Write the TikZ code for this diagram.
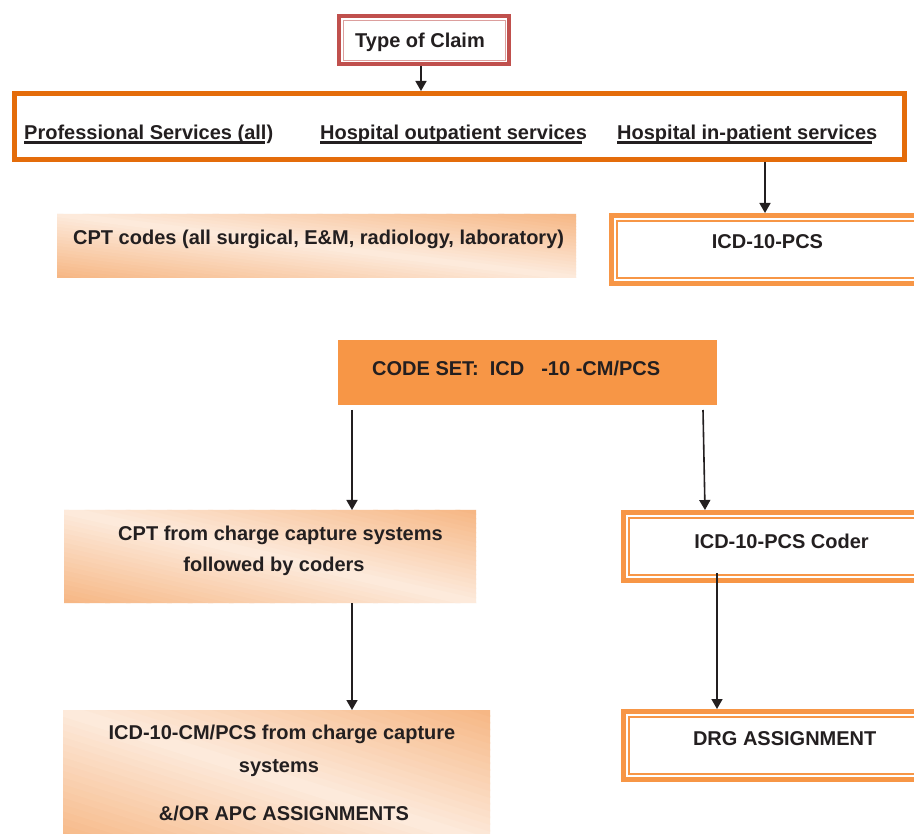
\documentclass[tikz,border=0pt]{standalone}
\usepackage{fontspec}
\setmainfont{Liberation Sans}
\usetikzlibrary{arrows.meta}
\definecolor{claimred}{HTML}{C0504D}
\definecolor{bigor}{HTML}{E46C0A}
\definecolor{boxor}{HTML}{F79646}
\definecolor{gradA}{HTML}{F6B683}
\definecolor{gradB}{HTML}{FDEBDD}
\definecolor{ink}{HTML}{231F20}
% diagonal gradient: orange at bottom-left and top-right corners, light along the other diagonal
\newcommand{\gradrect}[4]{%
  \begin{scope}
    \clip (#1,#2) rectangle (#3,#4);
    \begin{scope}[shift={(#1,#4)}, x={(#3-#1,0)}, y={(0,#2-#4)}]
      \foreach \k in {0,...,39} {
        \pgfmathsetmacro{\ua}{\k/20}
        \pgfmathsetmacro{\ub}{(\k+1)/20+0.012}
        \pgfmathsetmacro{\mx}{100*abs((\k+0.5)/20-1)}
        \fill[gradA!\mx!gradB] (\ua,0) -- (\ub,0) -- (\ub-1,1) -- (\ua-1,1) -- cycle;
      }
    \end{scope}
  \end{scope}}
\begin{document}
\begin{tikzpicture}[x=1pt,y=-1pt,
  txt/.style={font=\bfseries\fontsize{20}{24}\selectfont, text=ink, inner sep=0pt},
  arr/.style={draw=ink, line width=1.6pt, -{Triangle[length=10pt,width=11pt]}},
  dbox/.style={draw=boxor, line width=5pt, fill=white, inner sep=0pt, anchor=north west},
  gbox/.style={inner sep=0pt, outer sep=0pt, anchor=north west},
  innerline/.style={draw=boxor, line width=1.5pt},
  uline/.style={draw=ink, line width=3pt}]
\useasboundingbox (0,0) rectangle (914,834);
\fill[white] (0,0) rectangle (914,834);
\clip (0,0) rectangle (914,834);

% boxes
\node[draw=claimred, line width=4pt, fill=white, inner sep=0pt, anchor=north west,
      minimum width=170pt, minimum height=48pt] (claim) at (337,14) {};
\draw[claimred!55, line width=0.9pt] ([shift={(6,6)}]claim.north west) rectangle ([shift={(-6,-6)}]claim.south east);

\node[draw=bigor, line width=5pt, fill=white, inner sep=0pt, anchor=north west,
      minimum width=890pt, minimum height=66pt] (big) at (12,91) {};

\gradrect{57}{214}{576}{278}
\node[gbox, minimum width=519pt, minimum height=64pt] (cptcodes) at (57,214) {};

\node[dbox, minimum width=321pt, minimum height=68pt] (pcs) at (609,213) {};
\draw[innerline] ([shift={(8.2,8.2)}]pcs.north west) rectangle ([shift={(-8.2,-8.2)}]pcs.south east);

\node[fill=boxor, inner sep=0pt, anchor=north west, minimum width=379pt, minimum height=65pt] (codeset) at (338,340) {};

\gradrect{64}{510}{476}{603}
\node[gbox, minimum width=412pt, minimum height=93pt] (cptcharge) at (64,510) {};

\node[dbox, minimum width=309pt, minimum height=68pt] (coder) at (621,510) {};
\draw[innerline] ([shift={(8.2,8.2)}]coder.north west) rectangle ([shift={(-8.2,-8.2)}]coder.south east);

\node[dbox, minimum width=309pt, minimum height=68pt] (drg) at (621,709) {};
\draw[innerline] ([shift={(8.2,8.2)}]drg.north west) rectangle ([shift={(-8.2,-8.2)}]drg.south east);

\gradrect{63}{710}{490}{845}
\node[gbox, minimum width=427pt, minimum height=135pt] (icdcm) at (63,710) {};

% texts
\node[txt, anchor=base] (claimt) at (420,48) {Type of Claim};
\node[txt, anchor=base west] (p1) at (24,140) {Professional Services (all)};
\node[txt, anchor=base west] (p2) at (320,140) {Hospital outpatient services};
\node[txt, anchor=base west] (p3) at (617,140) {Hospital in-patient services};
\draw[uline] ([yshift=-2.5pt]p1.base west) -- ([yshift=-2.5pt,xshift=-8pt]p1.base east);
\draw[uline] ([yshift=-2.5pt]p2.base west) -- ([yshift=-2.5pt,xshift=-5pt]p2.base east);
\draw[uline] ([yshift=-2.5pt]p3.base west) -- ([yshift=-2.5pt,xshift=-5pt]p3.base east);
\node[txt, anchor=base west] (cptt) at (73,245) {CPT codes (all surgical, E\&M, radiology, laboratory)};
\node[txt, anchor=base] (pcst) at (767.5,249) {ICD-10-PCS};
\node[txt, anchor=base west] (codet) at (372,376) {CODE SET:\hspace{11pt}ICD\hspace{17pt}-10 -CM/PCS};
\node[txt, anchor=base] (cc1) at (280.5,540) {CPT from charge capture systems};
\node[txt, anchor=base] (cc2) at (274,571) {followed by coders};
\node[txt, anchor=base] (codert) at (781.5,548.5) {ICD-10-PCS Coder};
\node[txt, anchor=base] (drgt) at (784.7,745) {DRG ASSIGNMENT};
\node[txt, anchor=base] (ic1) at (282,739) {ICD-10-CM/PCS from charge capture};
\node[txt, anchor=base] (ic2) at (279,772) {systems};
\node[txt, anchor=base] (ic3) at (284,820) {\&/OR APC ASSIGNMENTS};

% connectors
\coordinate (xa) at (421,0);
\coordinate (xb) at (765,0);
\coordinate (c1) at (352,410);
\coordinate (c2) at (703,410);
\coordinate (c2e) at (705,0);
\coordinate (c3) at (717,573);
\draw[arr] (claim.south -| xa) -- (big.north -| xa);
\draw[arr] (big.south -| xb) -- (pcs.north -| xb);
\draw[arr] (c1) -- (cptcharge.north -| c1);
\draw[arr] (c2) -- (coder.north -| c2e);
\draw[arr] (cptcharge.south -| c1) -- (icdcm.north -| c1);
\draw[arr] (c3) -- (drg.north -| c3);
\end{tikzpicture}
\end{document}
